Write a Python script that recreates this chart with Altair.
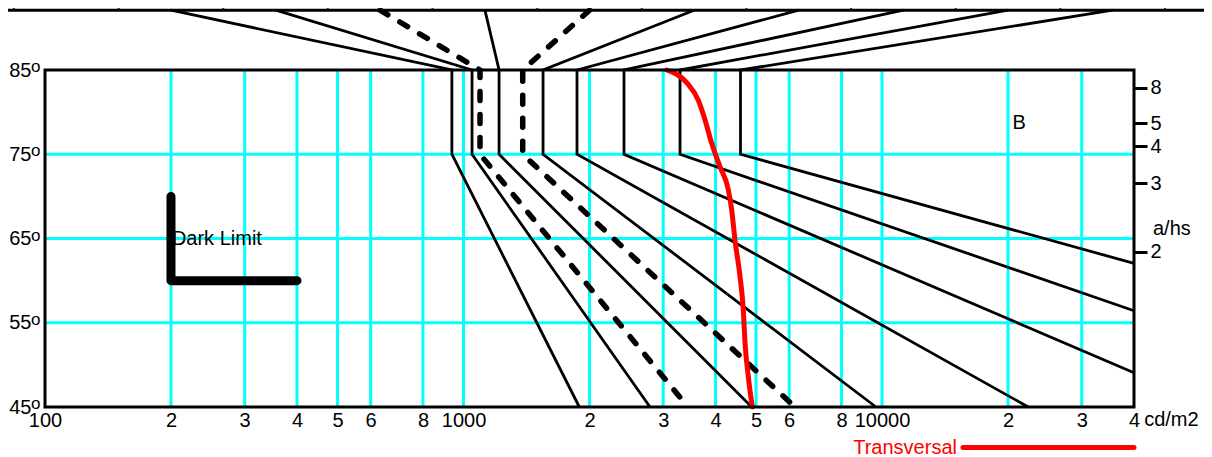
import altair as alt
import pandas as pd
import numpy as np

FONT = "Liberation Sans"

# ---- axis values ----
x_ticks = [100, 200, 300, 400, 500, 600, 800, 1000, 2000, 3000, 4000, 5000, 6000, 8000,
           10000, 20000, 30000, 40000]
x_tick_labels = ["100", "2", "3", "4", "5", "6", "8", "1000", "2", "3", "4", "5", "6", "8",
                 "10000", "2", "3", "4"]
grid_x = [200, 300, 400, 500, 600, 800, 1000, 2000, 3000, 4000, 5000, 6000, 8000,
          10000, 20000, 30000]
y_ticks = [45, 55, 65, 75, 85]
grid_y = [55, 65, 75]
ahs_values = [8, 5, 4, 3, 2]

# ---- top strip (cropped upper panel) ----
TOP = 92.1
top_ticks = [84.3, 150, 266.7, 474, 843, 1500, 2667, 4743, 8434, 15000, 26670, 47430]
fan_top = [200, 356, 632, 1125, 2000, 3557, 6325, 11250, 20000, 35570]

# ---- broken lines ----
line_at_85 = [938, 1048, 1095, 1216, 1385, 1549, 1867, 2418, 3291, 4590]
line_end_lum = [1891, 2790, 3439, 4883, 6195, 9673, 22360, 40000, 40000, 40000]
line_end_deg = [45, 45, 45, 45, 45, 45, 45, 49.07, 56.43, 62.05]
line_dashed = [False, False, True, False, True, False, False, False, False, False]

# ---- Transversal curve ----
trans_lum = [3058, 3414, 3639, 3775, 3917, 4101, 4292, 4373, 4453, 4578, 4662, 4706, 4792, 4898]
trans_deg = [85, 83.5, 81.4, 79.1, 76.3, 73.5, 70.8, 68.4, 64.8, 60.5, 56.5, 52.6, 48.6, 45]

# ---- Dark limit ----
dark_lum = [200, 200, 400]
dark_deg = [70, 60, 60]

# ---- annotations ----
left_text = ["Dark Limit", "B", "a/hs", "cd/m2"]
left_text_lum = [201, 20500, 44400, 42300]
left_text_deg = [65, 78.7, 66.1, 43.45]
legend_label = "Transversal"
legend_lum = [15610, 40000]
legend_deg = 40.19
degree_mark = "o"

xs = alt.Scale(type="log", domain=[100, 40000], nice=False)
ys = alt.Scale(domain=[45, 85], nice=False, zero=False)

# tables
rows = []
for i in range(len(line_at_85)):
    pts = [(fan_top[i], TOP), (line_at_85[i], 85), (line_at_85[i], 75),
           (line_end_lum[i], line_end_deg[i])]
    for o, (L, d) in enumerate(pts):
        rows.append({"id": i, "o": o, "L": L, "d": d, "dashed": line_dashed[i]})
lines_df = pd.DataFrame(rows)
solid_df = lines_df[~lines_df["dashed"]]
dashed_df = lines_df[lines_df["dashed"]]

gridv_df = pd.DataFrame({"L": grid_x, "d0": 45, "d1": 85})
gridh_df = pd.DataFrame({"d": grid_y, "L0": 100, "L1": 40000})
trans_df = pd.DataFrame({"L": trans_lum, "d": trans_deg, "o": range(len(trans_lum))})
dark_df = pd.DataFrame({"L": dark_lum, "d": dark_deg, "o": range(3)})
frame_df = pd.DataFrame({"L0": [100], "L1": [40000], "d0": [45], "d1": [85]})
topline_df = pd.DataFrame({"L0": [80], "L1": [65000], "d": [TOP]})
topticks_df = pd.DataFrame({"L": top_ticks, "d0": TOP + 0.15, "d1": TOP + 0.9})
ltext_df = pd.DataFrame({"L": left_text_lum, "d": left_text_deg, "t": left_text})
legend_df = pd.DataFrame({"L0": [legend_lum[0]], "L1": [legend_lum[1]], "d": [legend_deg],
                          "t": [legend_label]})
deg_df = pd.DataFrame({"L": 100, "d": y_ticks, "t": degree_mark})

x_label_expr = "".join(f"datum.value == {v} ? '{s}' : " for v, s in zip(x_ticks, x_tick_labels)) + "''"

axis_x = alt.Axis(values=x_ticks, labelExpr=x_label_expr, grid=False, ticks=False, tickSize=0,
                  domain=False, labelFont=FONT, labelFontSize=20, labelColor="black",
                  labelPadding=3, labelFlush=False, labelOverlap=False, labelBound=False,
                  title=None, orient="bottom")
axis_left = alt.Axis(values=y_ticks, grid=False, ticks=False, format="d",
                     tickSize=0, domain=False, labelFont=FONT, labelFontSize=20,
                     labelColor="black", labelPadding=14, labelFlush=False,
                     labelOverlap=False, title=None, orient="left")
ahs_deg = [float(np.degrees(np.arctan(v))) for v in ahs_values]
axis_right = alt.Axis(values=ahs_deg, labelExpr="'' + round(tan(datum.value * PI / 180))",
                      grid=False, ticks=True, tickSize=13, tickWidth=3, tickColor="black",
                      domain=False, labelFont=FONT, labelFontSize=20, labelColor="black",
                      labelPadding=3, labelFlush=False, labelOverlap=False, title=None,
                      orient="right")

CYAN = "#00ffff"
LW = 2.8

gridv = alt.Chart(gridv_df).mark_rule(color=CYAN, strokeWidth=3).encode(
    x=alt.X("L:Q", scale=xs, axis=axis_x),
    y=alt.Y("d0:Q", scale=ys, axis=axis_left),
    y2="d1:Q",
)
gridh = alt.Chart(gridh_df).mark_rule(color=CYAN, strokeWidth=3).encode(
    x=alt.X("L0:Q", scale=xs, axis=None),
    x2="L1:Q",
    y=alt.Y("d:Q", scale=ys, axis=None),
)
topline = alt.Chart(topline_df).mark_rule(color="black", strokeWidth=3).encode(
    x=alt.X("L0:Q", scale=xs, axis=None),
    x2="L1:Q",
    y=alt.Y("d:Q", scale=ys, axis=None),
)
topticks = alt.Chart(topticks_df).mark_rule(color="#0000ff", strokeWidth=2).encode(
    x=alt.X("L:Q", scale=xs, axis=None),
    y=alt.Y("d0:Q", scale=ys, axis=None),
    y2="d1:Q",
)
solid = alt.Chart(solid_df).mark_line(color="black", strokeWidth=LW).encode(
    x=alt.X("L:Q", scale=xs, axis=None),
    y=alt.Y("d:Q", scale=ys, axis=None),
    detail="id:N",
    order="o:Q",
)
dashed = alt.Chart(dashed_df).mark_line(color="black", strokeWidth=5.5, strokeDash=[9, 14],
                                        strokeCap="round").encode(
    x=alt.X("L:Q", scale=xs, axis=None),
    y=alt.Y("d:Q", scale=ys, axis=None),
    detail="id:N",
    order="o:Q",
)
trans = alt.Chart(trans_df).mark_line(color="#ff0000", strokeWidth=5, strokeCap="round",
                                      interpolate="monotone").encode(
    x=alt.X("L:Q", scale=xs, axis=None),
    y=alt.Y("d:Q", scale=ys, axis=None),
    order="o:Q",
)
dark = alt.Chart(dark_df).mark_line(color="black", strokeWidth=9, strokeCap="round",
                                    strokeJoin="round").encode(
    x=alt.X("L:Q", scale=xs, axis=None),
    y=alt.Y("d:Q", scale=ys, axis=None),
    order="o:Q",
)
frame = alt.Chart(frame_df).mark_rect(filled=False, stroke="black", strokeWidth=3).encode(
    x=alt.X("L0:Q", scale=xs, axis=None),
    x2="L1:Q",
    y=alt.Y("d0:Q", scale=ys, axis=axis_right),
    y2="d1:Q",
)
ltext = alt.Chart(ltext_df).mark_text(align="left", baseline="middle", font=FONT, fontSize=20,
                                      color="black").encode(
    x=alt.X("L:Q", scale=xs, axis=None),
    y=alt.Y("d:Q", scale=ys, axis=None),
    text="t:N",
)
degtext = alt.Chart(deg_df).mark_text(align="left", baseline="middle", font=FONT, fontSize=17,
                                      color="black", dx=-14, dy=-3).encode(
    x=alt.X("L:Q", scale=xs, axis=None),
    y=alt.Y("d:Q", scale=ys, axis=None),
    text="t:N",
)
legend_line = alt.Chart(legend_df).mark_rule(color="#ff0000", strokeWidth=5,
                                             strokeCap="round").encode(
    x=alt.X("L0:Q", scale=xs, axis=None),
    x2="L1:Q",
    y=alt.Y("d:Q", scale=ys, axis=None),
)
legend_text = alt.Chart(legend_df).mark_text(align="right", baseline="middle", font=FONT,
                                             fontSize=20, color="#ff0000", dx=-6).encode(
    x=alt.X("L0:Q", scale=xs, axis=None),
    y=alt.Y("d:Q", scale=ys, axis=None),
    text="t:N",
)

chart = alt.layer(
    gridv, gridh, topline, topticks, solid, dashed, trans, dark, frame, ltext, degtext,
    legend_line, legend_text,
).resolve_axis(x="independent", y="independent").properties(
    width=1089,
    height=337,
    padding={"left": 37, "top": 62, "right": 70, "bottom": 50},
    autosize=alt.AutoSizeParams(type="none"),
).configure_view(strokeWidth=0)

chart.save("out.html", embed_options={"renderer": "svg", "actions": False})
